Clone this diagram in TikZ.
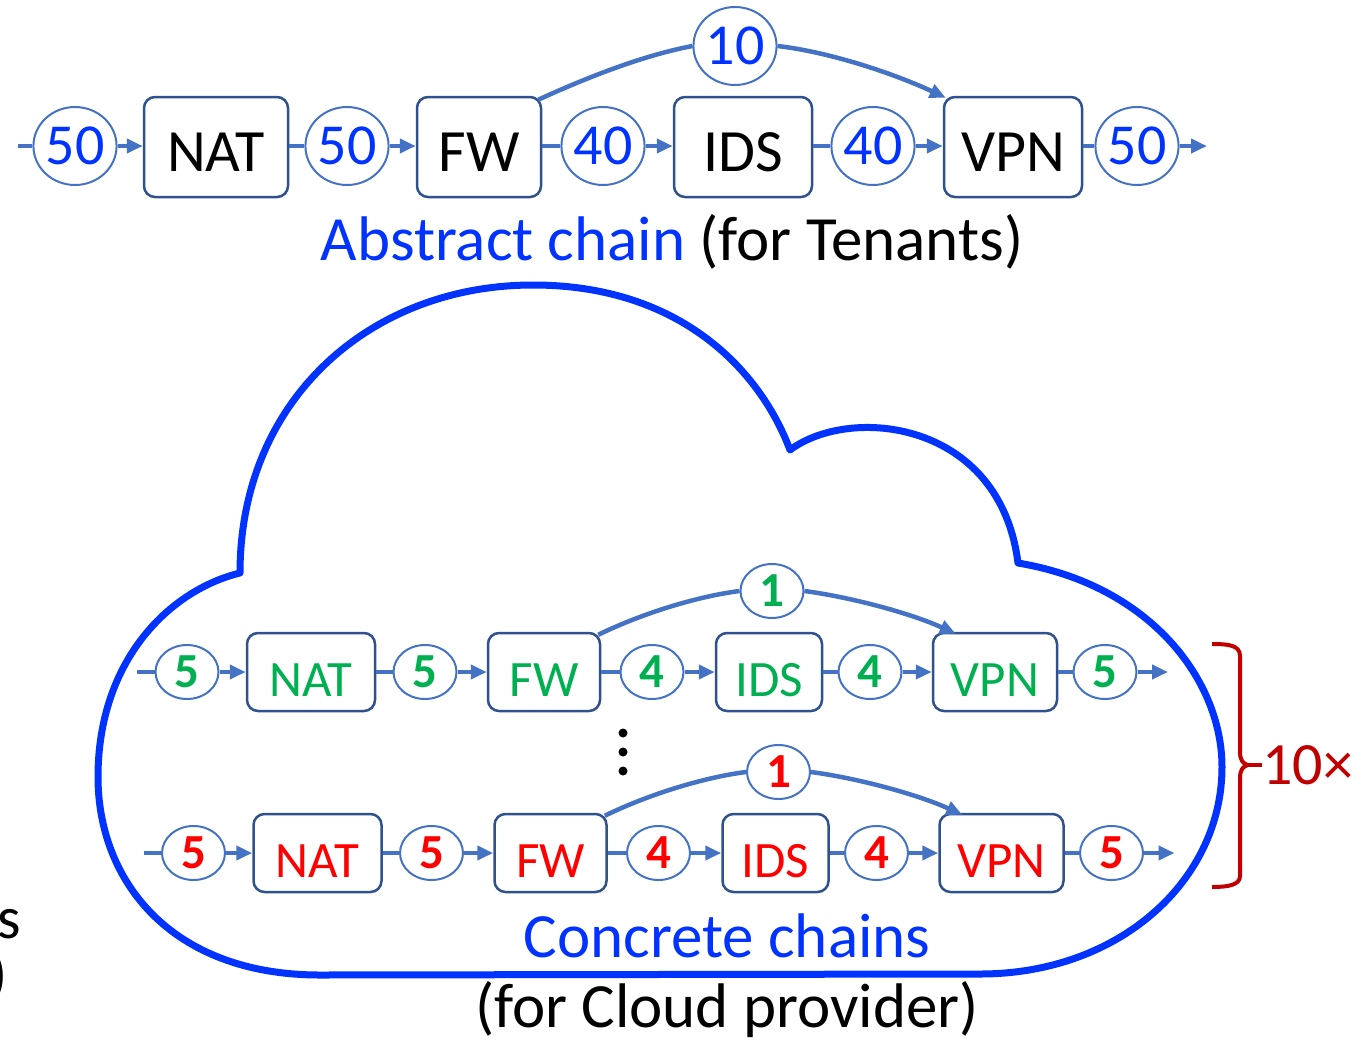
\documentclass[tikz,border=0pt]{standalone}
\usepackage{fontspec}
\setmainfont{Carlito}
\usetikzlibrary{shapes.geometric,arrows.meta}
\definecolor{cloudblue}{RGB}{0,51,255}
\definecolor{linkblue}{RGB}{68,114,196}
\definecolor{boxblue}{RGB}{47,82,143}
\definecolor{chaingreen}{RGB}{0,176,80}
\definecolor{chainred}{RGB}{255,0,0}
\definecolor{bracered}{RGB}{192,0,0}

% one concrete chain: #1 = name prefix, #2 = text colour
\newcommand\chainrow[2]{%
  \node[smallvnf,minimum width=128pt,text=#2] (#1NAT) at (311,672) {NAT};
  \node[smallvnf,minimum width=112pt,text=#2] (#1FW)  at (544,672) {FW};
  \node[smallvnf,minimum width=106pt,text=#2] (#1IDS) at (769,672) {IDS};
  \node[smallvnf,minimum width=124pt,text=#2] (#1VPN) at (995,672) {VPN};
  \node[smallnum,text=#2] (#1a) at (187,672) {5};
  \node[smallnum,text=#2] (#1b) at (425,672) {5};
  \node[smallnum,text=#2] (#1c) at (652,672) {4};
  \node[smallnum,text=#2] (#1d) at (870,672) {4};
  \node[smallnum,text=#2] (#1e) at (1105,672) {5};
  \node[smallnum,text=#2] (#1skip) at (772,591) {1};
  \coordinate (#1in) at (137,672);
  \coordinate (#1out) at (1168,672);
  \draw[link] (#1in) -- (#1a.west);
  \draw[flow] (#1a.east) -- (#1NAT.west);
  \draw[link] (#1NAT.east) -- (#1b.west);
  \draw[flow] (#1b.east) -- (#1FW.west);
  \draw[link] (#1FW.east) -- (#1c.west);
  \draw[flow] (#1c.east) -- (#1IDS.west);
  \draw[link] (#1IDS.east) -- (#1d.west);
  \draw[flow] (#1d.east) -- (#1VPN.west);
  \draw[link] (#1VPN.east) -- (#1e.west);
  \draw[flow] (#1e.east) -- (#1out);
  \draw[link] ([xshift=-3pt,yshift=-3pt]#1FW.north east) .. controls (645,612) and (700,596) .. (#1skip.west);
  \draw[flow] (#1skip.east) .. controls (850,597) and (910,613) .. ([xshift=24pt,yshift=-2pt]#1VPN.north west);
}

\begin{document}
\begin{tikzpicture}[x=1pt,y=-1pt,
  vnf/.style={draw=boxblue,line width=2.5pt,rounded corners=11pt,fill=white,inner sep=0pt},
  bigvnf/.style={vnf,minimum height=100pt,font=\fontsize{60}{70}\selectfont,text height=48.6pt,text depth=0pt},
  smallvnf/.style={vnf,minimum height=78pt,font=\fontsize{51}{60}\selectfont,text height=49pt,text depth=0pt},
  bignum/.style={ellipse,draw=linkblue,line width=2pt,fill=white,minimum width=80pt,minimum height=78pt,inner sep=0pt,text=cloudblue,font=\fontsize{58}{64}\selectfont},
  smallnum/.style={ellipse,draw=linkblue,line width=2pt,fill=white,minimum width=63pt,minimum height=54pt,inner sep=0pt,font=\bfseries\fontsize{49}{56}\selectfont},
  link/.style={draw=linkblue,line width=4.5pt},
  flow/.style={link,-{Triangle[length=16pt,width=14pt]}},
  cloudline/.style={draw=cloudblue,line width=7pt,line join=round},
  brace/.style={draw=bracered,line width=4pt},
  caption/.style={anchor=base,inner sep=0pt,font=\fontsize{63}{70}\selectfont}
]
\useasboundingbox (0,0) rectangle (1363,1042);
\clip (0,0) rectangle (1363,1042);

% ---- abstract chain ----
\node[bigvnf,minimum width=144pt] (tNAT) at (216,147) {NAT};
\node[bigvnf,minimum width=124pt] (tFW)  at (479,147) {FW};
\node[bigvnf,minimum width=138pt] (tIDS) at (743,147) {IDS};
\node[bigvnf,minimum width=138pt] (tVPN) at (1013,147) {VPN};
\node[bignum] (t0) at (75,146) {50};
\node[bignum] (t1) at (347,146) {50};
\node[bignum] (t2) at (603,146) {40};
\node[bignum] (t3) at (873,146) {40};
\node[bignum] (t4) at (1137,146) {50};
\node[bignum] (tTop) at (735,46) {10};
\coordinate (tIn) at (18,146);
\coordinate (tOut) at (1207,146);

\draw[link] (tIn) -- (t0.west);
\draw[flow] (t0.east) -- (t0.east -| tNAT.west);
\draw[link] (t1.west -| tNAT.east) -- (t1.west);
\draw[flow] (t1.east) -- (t1.east -| tFW.west);
\draw[link] (t2.west -| tFW.east) -- (t2.west);
\draw[flow] (t2.east) -- (t2.east -| tIDS.west);
\draw[link] (t3.west -| tIDS.east) -- (t3.west);
\draw[flow] (t3.east) -- (t3.east -| tVPN.west);
\draw[link] (t4.west -| tVPN.east) -- (t4.west);
\draw[flow] (t4.east) -- (tOut);
\draw[link] ([xshift=-4pt,yshift=-4pt]tFW.north east) .. controls (590,76) and (645,55) .. (tTop.west);
\draw[flow] (tTop.east) .. controls (830,52) and (895,74) .. ([xshift=3pt,yshift=-2pt]tVPN.north west);

\node[caption] (absCap) at (672,260) {\textcolor{cloudblue}{Abstract chain} (for Tenants)};

% ---- cloud outline ----
\draw[cloudline]
  (240,573) .. controls (240,400) and (370,285) .. (533,285)
  .. controls (680,285) and (760,370) .. (790,450)
  .. controls (850,405) and (1000,420) .. (1018,563)
  .. controls (1150,585) and (1222,680) .. (1222,767)
  .. controls (1222,880) and (1120,974) .. (980,974)
  -- (320,975)
  .. controls (170,975) and (98,880) .. (98,777)
  .. controls (98,660) and (170,590) .. (240,573)
  -- cycle;

% ---- concrete chains ----
\chainrow{g}{chaingreen}
\begin{scope}[shift={(6.5,181)}]
  \chainrow{r}{chainred}
\end{scope}

\fill (623,733) circle (4.5);
\fill (623,752) circle (4.5);
\fill (623,771) circle (4.5);

% ---- replication brace ----
\node[anchor=west,inner sep=0pt,text=bracered,font=\fontsize{60}{70}\selectfont] (tenx) at (1262,765) {10×};
\coordinate (braceTip) at (1248,765);
\draw[brace,line join=round] (1212,644) .. controls (1228,644) and (1240,645) .. (1240,656) -- (1240,752)
  .. controls (1240,760) and (1243,764) .. (braceTip)
  .. controls (1243,766) and (1240,770) .. (1240,778) -- (1240,876)
  .. controls (1240,885) and (1228,887) .. (1212,887);
\draw[brace] (braceTip) -- (tenx.west);

\node[caption,text=cloudblue] (concCap) at (727,957) {Concrete chains};
\node[caption] (provCap) at (727,1027) {(for Cloud provider)};

% ---- text cut at the left edge ----
\node[anchor=base east,inner sep=0pt,font=\fontsize{60}{70}\selectfont] (fragS) at (21,938) {s};
\node[anchor=base east,inner sep=0pt,font=\fontsize{60}{70}\selectfont] (fragP) at (8,994) {)};
\end{tikzpicture}
\end{document}
